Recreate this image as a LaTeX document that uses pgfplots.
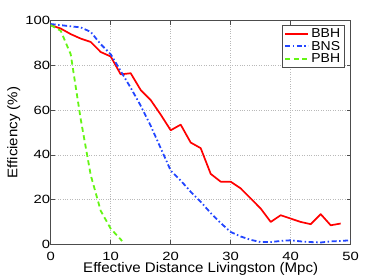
\documentclass[border=0pt]{standalone}
\usepackage{fontspec}
\setmainfont{Liberation Sans}
\newfontfamily\tickfont[FakeStretch=1.24]{Liberation Sans}
\newfontfamily\labfont[FakeStretch=1.08]{Liberation Sans}
\usepackage{pgfplots}
\pgfplotsset{compat=1.18}
\definecolor{mred}{RGB}{255,0,0}
\definecolor{mblue}{RGB}{35,70,255}
\definecolor{mgreen}{RGB}{100,245,20}
\begin{document}
\begin{tikzpicture}
\useasboundingbox (-50.7bp,-32.7bp) rectangle (337.3bp,244.3bp);
\begin{axis}[
  scale only axis,
  width=300bp, height=223.6bp,
  xmin=0, xmax=50, ymin=0, ymax=100,
  xtick={0,10,20,30,40,50}, ytick={0,20,40,60,80,100},
  tick align=inside,
  major tick length=4bp,
  xtick pos=both, ytick pos=both,
  grid=major,
  major grid style={dotted, gray!55, line width=0.5bp},
  axis line style={black!70, line width=0.7bp},
  tick style={black!70, line width=0.5bp},
  /pgf/number format/assume math mode=true,
  tick label style={font=\tickfont\fontsize{12}{14}\selectfont},
  yticklabel style={inner xsep=0.5bp},
  xticklabel style={anchor=base, yshift=-15.7bp},
  label style={font=\labfont\fontsize{14}{16}\selectfont},
  xlabel={Effective Distance Livingston (Mpc)},
  ylabel={Efficiency (\%)},
  xlabel style={at={(rel axis cs:0.5,0)}, anchor=base, yshift=-28.4bp},
  ylabel style={yshift=1bp},
  legend style={at={(rel axis cs:0.979,0.981)}, anchor=north east,
    draw=black!70, fill=white, font=\labfont\fontsize{13}{14}\selectfont,
    inner xsep=2bp, inner ysep=1.5bp, row sep=-2bp, line width=0.6bp},
  legend cell align=left,
  legend image code/.code={\draw[#1] (0bp,0bp) -- (23bp,0bp);},
]
\addplot[mred, line width=1.7bp, line join=round] coordinates {
(0,98) (1.667,96.5) (3.333,94) (5,92) (6.667,90.5) (8.333,86) (10,84)
(11.667,76) (13.333,76.5) (15,69) (16.667,64.5) (18.333,58) (20,51)
(21.667,53.5) (23.333,45.5) (25,43) (26.667,31.5) (28.333,28) (30,28)
(31.667,25) (33.333,20.5) (35,16) (36.667,10) (38.333,13) (40,11.5)
(41.667,10) (43.333,9) (45,13.5) (46.667,8.5) (48.333,9.3)
};
\addlegendentry{BBH}
\addplot[mblue, line width=1.8bp, dash pattern=on 5bp off 2.5bp on 1.5bp off 2.5bp] coordinates {
(0,98.5) (1.667,98) (3.333,97.5) (5,97) (6.667,95) (8.333,89.5) (10,85)
(11.667,77.5) (13.333,70) (15,62) (16.667,53) (18.333,43) (20,33)
(21.667,28.5) (23.333,23.5) (25,19) (26.667,14) (28.333,9.5) (30,5.5)
(31.667,3.5) (33.333,2) (35,1) (36.667,1) (38.333,1.5) (40,1.8)
(41.667,1.3) (43.333,1) (45,0.8) (46.667,1.3) (48.333,1.5) (50,1.8)
};
\addlegendentry{BNS}
\addplot[mgreen, line width=1.8bp, dash pattern=on 5bp off 3.5bp] coordinates {
(0,98) (1.667,95.5) (3.333,85) (5,56) (6.667,31) (8.333,15) (10,7) (11.9,1.5)
};
\addlegendentry{PBH}
\end{axis}
\end{tikzpicture}
\end{document}
